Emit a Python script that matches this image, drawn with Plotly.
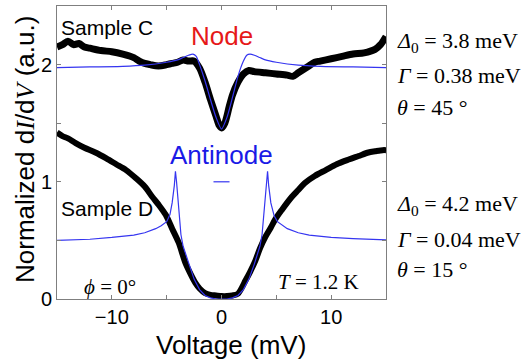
import plotly.graph_objects as go

# ---- Sample C (node) measured dI/dV ----
c_v = [-15, -14.5, -14.0, -13.5, -13.0, -12.5, -12.0, -11.0, -10.0, -9.0, -8.0, -7.5, -7.0,
       -6.5, -6.0, -5.5, -5.0, -4.5, -4.0, -3.5, -3.0, -2.5, -2.0, -1.5, -1.0, -0.5,
       -0.2, 0.0, 0.3, 0.7, 1.0, 1.5, 2.0, 2.5, 3.0, 4.0, 5.0, 6.0, 6.5, 7.0, 7.5,
       8.0, 8.5, 9.0, 10.0, 11.0, 12.0, 13.0, 14.0, 14.5, 15.0]
c_g = [2.15, 2.17, 2.20, 2.17, 2.18, 2.15, 2.14, 2.12, 2.11, 2.09, 2.06, 2.03, 2.01,
       2.00, 1.99, 1.99, 2.00, 2.01, 2.02, 2.04, 2.03, 2.03, 1.97, 1.85, 1.70, 1.56,
       1.48, 1.46, 1.50, 1.64, 1.74, 1.85, 1.92, 1.95, 1.94, 1.93, 1.92, 1.91, 1.90,
       1.93, 1.96, 1.99, 2.02, 2.03, 2.05, 2.07, 2.09, 2.10, 2.13, 2.17, 2.24]

# ---- Sample C fit ----
cf_v = [-15, -12, -9, -7, -5, -4, -3.5, -3.0, -2.6, -2.3, -2.0, -1.5, -1.0, -0.5, 0.0,
        0.5, 1.0, 1.5, 2.0, 2.3, 2.6, 3.0, 3.5, 4.0, 5.0, 7.0, 9.0, 12.0, 15.0]
cf_g = [1.975, 1.98, 1.985, 1.995, 2.02, 2.04, 2.06, 2.08, 2.09, 2.07, 2.00, 1.86, 1.70, 1.55, 1.45,
        1.55, 1.72, 1.90, 2.03, 2.08, 2.09, 2.08, 2.06, 2.04, 2.02, 1.995, 1.985, 1.98, 1.975]

# ---- Sample D (antinode) measured dI/dV ----
d_v = [-15, -14.5, -14.0, -13.3, -12.5, -11.5, -10.5, -9.6, -8.7, -7.8, -7.0, -6.3,
       -5.7, -5.1, -4.5, -3.9, -3.3, -2.8, -2.4, -2.0, -1.5, -1.0, -0.5, 0.0, 0.5,
       1.0, 1.5, 2.2, 2.6, 3.1, 3.5, 4.0, 4.5, 4.9, 5.5, 6.4, 7.0, 7.6, 8.5, 9.5,
       10.5, 11.6, 12.5, 13.4, 14.0, 14.7, 15.0]
d_g = [1.42, 1.39, 1.37, 1.33, 1.29, 1.25, 1.20, 1.15, 1.10, 1.03, 0.96, 0.87,
       0.80, 0.72, 0.60, 0.48, 0.31, 0.21, 0.14, 0.09, 0.05, 0.035, 0.03, 0.025, 0.025,
       0.03, 0.045, 0.16, 0.23, 0.33, 0.43, 0.53, 0.61, 0.68, 0.76, 0.87, 0.93, 0.99, 1.05, 1.10,
       1.15, 1.19, 1.22, 1.25, 1.26, 1.27, 1.27]

# ---- Sample D fit ----
df_v = [-15, -12, -10, -8, -7, -6, -5.5, -5.0, -4.7, -4.5, -4.3, -4.2, -4.1, -3.9, -3.7,
        -3.5, -3.0, -2.5, -2.0, -1.5, -1.0, -0.5, 0.0, 0.5, 1.0, 1.5, 2.0, 2.5, 3.0,
        3.5, 3.7, 3.9, 4.1, 4.2, 4.3, 4.5, 4.8, 5.1, 6.0, 7.0, 8.0, 10.0, 12.0, 15.0]
df_g = [0.50, 0.51, 0.525, 0.545, 0.565, 0.60, 0.625, 0.66, 0.72, 0.82, 0.97, 1.09, 1.00, 0.75, 0.55,
        0.45, 0.30, 0.17, 0.08, 0.03, 0.01, 0.0, 0.0, 0.0, 0.01, 0.03, 0.08, 0.17, 0.30,
        0.45, 0.55, 0.75, 1.00, 1.09, 0.97, 0.82, 0.71, 0.66, 0.60, 0.565, 0.545, 0.525, 0.515, 0.505]

dash_v = [-0.73, 0.73]
dash_g = [1.0, 1.0]

x_tickvals = [-10, 0, 10]
x_ticktext = ["\u221210", "0", "10"]
y_tickvals = [0, 1, 2]
y_ticktext = ["0", "1", "2"]

BLACK = "#000000"
BLUE = "#3535f0"
SANS = "Liberation Sans, Arial, sans-serif"
SERIF = "Liberation Serif, Times New Roman, serif"

fig = go.Figure()
fig.add_trace(go.Scatter(x=c_v, y=c_g, mode="lines",
                         line=dict(color=BLACK, width=7, shape="spline", smoothing=0.8), showlegend=False))
fig.add_trace(go.Scatter(x=d_v, y=d_g, mode="lines",
                         line=dict(color=BLACK, width=6, shape="spline", smoothing=0.8), showlegend=False))
fig.add_trace(go.Scatter(x=cf_v, y=cf_g, mode="lines",
                         line=dict(color=BLUE, width=1.2, shape="spline", smoothing=0.6), showlegend=False))
fig.add_trace(go.Scatter(x=df_v, y=df_g, mode="lines", line=dict(color=BLUE, width=1.2), showlegend=False))
fig.add_trace(go.Scatter(x=dash_v, y=dash_g, mode="lines", line=dict(color=BLUE, width=1.2), showlegend=False))

ann = []
def add(text, x, y, size, color="black", family=SANS, xanchor="center", xref="x", yref="y", angle=0):
    ann.append(dict(text=text, x=x, y=y, xref=xref, yref=yref, showarrow=False,
                    xanchor=xanchor, yanchor="middle", textangle=angle,
                    font=dict(size=size, color=color, family=family)))

add("Sample C", -14.8, 2.316, 21, xanchor="left")
add("Sample D", -14.8, 0.77, 21, xanchor="left")
add("Node", 0.05, 2.24, 26, color="#e61919")
add("Antinode", 0.0, 1.23, 26, color="#1a1ae6")
add("<i>\u03d5</i> = 0\u00b0", -10.2, 0.10, 21, family=SERIF)
add("<i>T</i> = 1.2 K", 8.8, 0.145, 21, family=SERIF)

rx = 1.027
add("<i>\u0394</i><sub>0</sub> = 3.8 meV", rx, 2.19, 22, family=SERIF, xanchor="left", xref="paper")
add("<i>\u0393</i> = 0.38 meV", rx, 1.906, 22, family=SERIF, xanchor="left", xref="paper")
add("<i>\u03b8</i> = 45 \u00b0", rx, 1.632, 22, family=SERIF, xanchor="left", xref="paper")
add("<i>\u0394</i><sub>0</sub> = 4.2 meV", rx, 0.803, 22, family=SERIF, xanchor="left", xref="paper")
add("<i>\u0393</i> = 0.04 meV", rx, 0.504, 22, family=SERIF, xanchor="left", xref="paper")
add("<i>\u03b8</i> = 15 \u00b0", rx, 0.248, 22, family=SERIF, xanchor="left", xref="paper")

add("Voltage (mV)", 0.529, -0.157, 26, xref="paper", yref="paper")
add("Normalized d<span style='font-family:Liberation Serif'><i>I</i></span>/d<span style='font-family:Liberation Serif'><i>V</i></span> (a.u.)",
    -0.097, 0.509, 26, xref="paper", yref="paper", angle=-90)

axis_common = dict(showline=True, linecolor="#7f7f7f", linewidth=1, mirror="ticks",
                   ticks="inside", ticklen=4, tickcolor="#7f7f7f", showgrid=False,
                   zeroline=False, tickfont=dict(size=20, family=SANS, color="black"))

fig.update_layout(
    width=529, height=360,
    margin=dict(l=57, r=143, t=6, b=61),
    paper_bgcolor="white", plot_bgcolor="white",
    xaxis=dict(range=[-15, 15], tickvals=x_tickvals, ticktext=x_ticktext,
               minor=dict(dtick=5, tick0=0, ticks="inside", ticklen=4, tickcolor="#7f7f7f"),
               **axis_common),
    yaxis=dict(range=[0, 2.5], tickvals=y_tickvals, ticktext=y_ticktext,
               minor=dict(dtick=0.5, tick0=0, ticks="inside", ticklen=4, tickcolor="#7f7f7f"),
               **axis_common),
    annotations=ann,
)

fig.write_html("out.html")
